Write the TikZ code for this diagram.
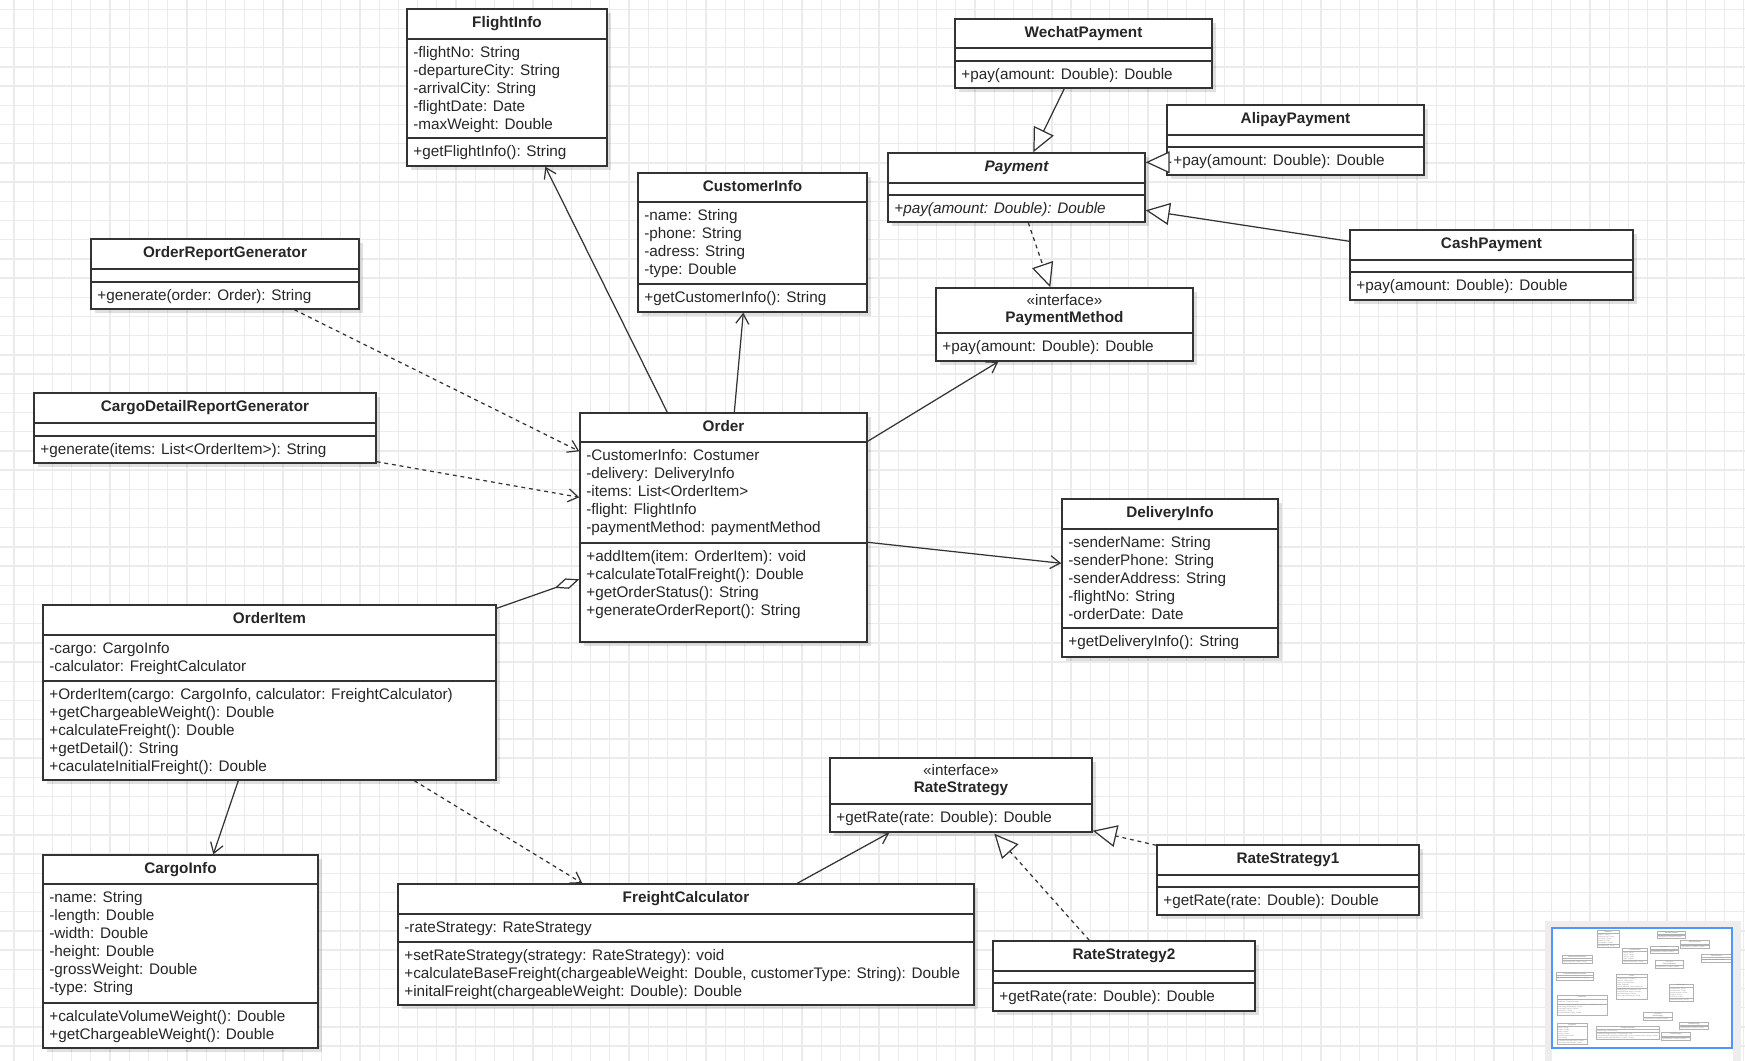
\documentclass[tikz,border=0pt]{standalone}
\usepackage{fontspec}
\setmainfont{Liberation Sans}
\usetikzlibrary{arrows.meta,calc,fit,shadows}

\newcommand{\umlfont}{\fontsize{8.7pt}{10.3pt}\selectfont}
\definecolor{outlineblue}{RGB}{80,150,255}
\colorlet{umltext}{black!85}
\colorlet{umlline}{black!80}

% class boxes: name/left/top/right/bottom/header line/second line
\def\classboxes{flight/407/9/607/166/39/138,
  ordrep/91/239/359/309/269/282,
  cargorep/34/393/376/463/423/436,
  wechat/955/19/1212/88/48/61,
  payment/888/153/1145/222/183/195,
  alipay/1167/105/1424/175/135/147,
  cash/1350/230/1633/300/260/272,
  customer/638/173/867/312/202/284,
  paymethod/936/288/1193/361/333/333,
  order/580/413/867/642/442/543,
  delivery/1062/499/1278/657/529/628,
  orderitem/43/605/496/780/635/681,
  cargo/43/855/318/1048/884/1003,
  freight/398/884/974/1005/914/942,
  rate/830/758/1092/832/804/804,
  rate1/1157/845/1419/915/875/887,
  rate2/993/941/1255/1011/971/983}

\tikzset{
  gridline/.style={draw=black!8, line width=0.7pt},
  classbox/.style={draw=umlline, line width=0.8pt, fill=white, inner sep=0pt,
    drop shadow={shadow xshift=2.5pt, shadow yshift=-2.5pt, opacity=0.12, fill=black}},
  sepline/.style={draw=umlline, line width=0.8pt},
  title/.style={font=\umlfont\bfseries, text=umltext, text height=6.3pt, text depth=1.8pt, inner sep=0pt},
  stereo/.style={font=\umlfont, text=umltext, text height=6.3pt, text depth=1.8pt, inner sep=0pt},
  members/.style={font=\umlfont, text=umltext, anchor=north west, align=left, inner sep=0pt},
  link/.style={draw=umlline, line width=0.7pt},
  assoc/.style={link, -{Straight Barb[length=0.2cm, width=0.26cm]}},
  dep/.style={assoc, dash pattern=on 2.2pt off 2.2pt},
  inherit/.style={link, -{Triangle[open, fill=white, length=0.48cm, width=0.44cm]}},
  realize/.style={inherit, dash pattern=on 2.2pt off 2.2pt},
  aggr/.style={link, -{Diamond[open, fill=white, length=0.52cm, width=0.22cm]}},
}

% all class texts, used in the diagram and in the outline
\newcommand{\classtexts}{%
  % FlightInfo
  \node[title] at (507,24) {FlightInfo};
  \node[members] at (413,46) {-flightNo: String\\-departureCity: String\\-arrivalCity: String\\-flightDate: Date\\-maxWeight: Double};
  \node[members] at (413,145) {+getFlightInfo(): String};
  % report generators
  \node[title] at (225,254) {OrderReportGenerator};
  \node[members] at (97,289) {+generate(order: Order): String};
  \node[title] at (205,408) {CargoDetailReportGenerator};
  \node[members] at (40,443) {+generate(items: List<OrderItem>): String};
  % payments
  \node[title] at (1083.5,33.5) {WechatPayment};
  \node[members] at (961,68) {+pay(amount: Double): Double};
  \node[title, font=\umlfont\bfseries\itshape] at (1016.5,168) {Payment};
  \node[members, font=\umlfont\itshape] at (894,202) {+pay(amount: Double): Double};
  \node[title] at (1295.5,120) {AlipayPayment};
  \node[members] at (1173,154) {+pay(amount: Double): Double};
  \node[title] at (1491.5,245) {CashPayment};
  \node[members] at (1356,279) {+pay(amount: Double): Double};
  \node[stereo] at (1064.5,302) {«interface»};
  \node[title] at (1064.5,318.5) {PaymentMethod};
  \node[members] at (942,340) {+pay(amount: Double): Double};
  % CustomerInfo
  \node[title] at (752.5,187.5) {CustomerInfo};
  \node[members] at (644,209) {-name: String\\-phone: String\\-adress: String\\-type: Double};
  \node[members] at (644,291) {+getCustomerInfo(): String};
  % Order
  \node[title] at (723.5,427.5) {Order};
  \node[members] at (586,449) {-CustomerInfo: Costumer\\-delivery: DeliveryInfo\\-items: List<OrderItem>\\-flight: FlightInfo\\-paymentMethod: paymentMethod};
  \node[members] at (586,550) {+addItem(item: OrderItem): void\\+calculateTotalFreight(): Double\\+getOrderStatus(): String\\+generateOrderReport(): String};
  % DeliveryInfo
  \node[title] at (1170,514) {DeliveryInfo};
  \node[members] at (1068,536) {-senderName: String\\-senderPhone: String\\-senderAddress: String\\-flightNo: String\\-orderDate: Date};
  \node[members] at (1068,635) {+getDeliveryInfo(): String};
  % OrderItem
  \node[title] at (269.5,620) {OrderItem};
  \node[members] at (49,642) {-cargo: CargoInfo\\-calculator: FreightCalculator};
  \node[members] at (49,688) {+OrderItem(cargo: CargoInfo, calculator: FreightCalculator)\\+getChargeableWeight(): Double\\+calculateFreight(): Double\\+getDetail(): String\\+caculateInitialFreight(): Double};
  % CargoInfo
  \node[title] at (180.5,869.5) {CargoInfo};
  \node[members] at (49,891) {-name: String\\-length: Double\\-width: Double\\-height: Double\\-grossWeight: Double\\-type: String};
  \node[members] at (49,1010) {+calculateVolumeWeight(): Double\\+getChargeableWeight(): Double};
  % FreightCalculator
  \node[title] at (686,899) {FreightCalculator};
  \node[members] at (404,921) {-rateStrategy: RateStrategy};
  \node[members] at (404,949) {+setRateStrategy(strategy: RateStrategy): void\\+calculateBaseFreight(chargeableWeight: Double, customerType: String): Double\\+initalFreight(chargeableWeight: Double): Double};
  % rate strategies
  \node[stereo] at (961,772) {«interface»};
  \node[title] at (961,788.5) {RateStrategy};
  \node[members] at (836,811) {+getRate(rate: Double): Double};
  \node[title] at (1288,860) {RateStrategy1};
  \node[members] at (1163,894) {+getRate(rate: Double): Double};
  \node[title] at (1124,956) {RateStrategy2};
  \node[members] at (999,990) {+getRate(rate: Double): Double};
}

\begin{document}
\begin{tikzpicture}[x=0.02cm, y=-0.02cm]
  \useasboundingbox (0,0) rectangle (1745,1061);
  \fill[white] (0,0) rectangle (1745,1061);

  % grid
  \foreach \i in {0,...,90}
    \draw[gridline] ({14+19.22*\i},0) -- ({14+19.22*\i},1061);
  \foreach \j in {0,...,54}
    \draw[gridline] (0,{9.3+19.2*\j}) -- (1745,{9.3+19.2*\j});

  % boxes
  \foreach \n/\xa/\ya/\xb/\yb/\hy/\sy in \classboxes {
    \node[classbox, fit={(\xa,\ya) (\xb,\yb)}] (\n) {};
    \draw[sepline] (\xa,\hy) -- (\xb,\hy) (\xa,\sy) -- (\xb,\sy);
  }

  % connectors
  \draw[assoc] ($(order.north west)+(88,0)$) -- ($(flight.south west)+(139,0)$);
  \draw[assoc] ($(order.north west)+(155,0)$) -- ($(customer.south west)+(106,0)$);
  \draw[assoc] ($(order.north east)+(0,29)$) -- ($(paymethod.south west)+(63,0)$);
  \draw[assoc] ($(order.north east)+(0,130)$) -- ($(delivery.north west)+(0,65)$);
  \draw[dep] ($(ordrep.south west)+(204,0)$) -- ($(order.north west)+(0,39)$);
  \draw[dep] ($(cargorep.south east)+(0,-2)$) -- ($(order.north west)+(0,85)$);
  \draw[aggr] ($(orderitem.north east)+(0,4)$) -- ($(order.north west)+(0,167)$);
  \draw[assoc] ($(orderitem.south west)+(196,0)$) -- ($(cargo.north west)+(171,0)$);
  \draw[dep] ($(orderitem.south west)+(372,0)$) -- ($(freight.north west)+(185,0)$);
  \draw[assoc] ($(freight.north west)+(400,0)$) -- ($(rate.south west)+(60,0)$);
  \draw[realize] ($(rate1.north west)+(0,1)$) -- ($(rate.south east)+(0,-2)$);
  \draw[realize] ($(rate2.north west)+(97,0)$) -- ($(rate.south west)+(165,1)$);
  \draw[inherit] ($(wechat.south west)+(110,0)$) -- ($(payment.north west)+(146,0)$);
  \draw[inherit] ($(alipay.north west)+(5,58)$) -- ($(payment.north east)+(0,10)$);
  \draw[inherit] ($(cash.north west)+(0,12)$) -- ($(payment.north east)+(0,58)$);
  \draw[realize] ($(payment.south west)+(141,0)$) -- ($(paymethod.north west)+(115,0)$);

  \classtexts

  % outline panel
  \fill[black!7] (1545,921) rectangle (1741,1061);
  \fill[white] (1552,928) rectangle (1733,1061);
  \begin{scope}[shift={(1552.3,929)}, scale=0.11, transform shape]
    \colorlet{umltext}{black!45}
    \foreach \n/\xa/\ya/\xb/\yb/\hy/\sy in \classboxes {
      \draw[black!30, line width=0.3pt] (\xa,\ya) rectangle (\xb,\yb)
        (\xa,\hy) -- (\xb,\hy) (\xa,\sy) -- (\xb,\sy);
    }
    \classtexts
  \end{scope}
  \draw[outlineblue, line width=1.1pt] (1552,928) rectangle (1732,1048);
\end{tikzpicture}
\end{document}
